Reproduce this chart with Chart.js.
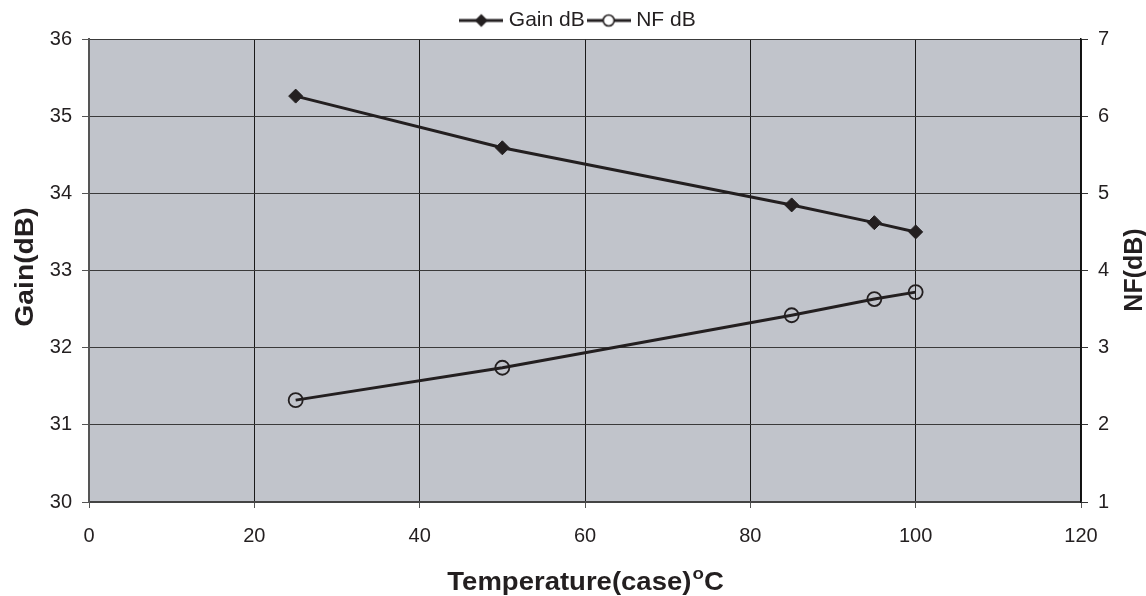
<!DOCTYPE html>
<html>
<head>
<meta charset="utf-8">
<script src="https://cdn.jsdelivr.net/npm/chart.js@4"></script>
<style>
  html, body { margin: 0; padding: 0; background: #fff; }
</style>
</head>
<body>
<canvas id="chart" width="1146" height="596"></canvas>
<script>
// ==============================
// Data
// ==============================
const temps = [25, 50, 85, 95, 100];
const gainDb = [35.26, 34.59, 33.85, 33.62, 33.5];
const nfDb = [2.32, 2.74, 3.42, 3.63, 3.72];
const seriesNames = ['Gain dB', 'NF dB'];

const ink = '#231f20';
const plotBg = '#c1c4cb';
const fontFamily = '"Liberation Sans", Arial, sans-serif';

// ==============================
// Legend markers (line + symbol)
// ==============================
function legendMark(kind) {
    const c = document.createElement('canvas');
    c.width = 44; c.height = 16;
    const g = c.getContext('2d');
    g.strokeStyle = ink;
    g.lineWidth = 3;
    g.beginPath(); g.moveTo(0, 8); g.lineTo(44, 8); g.stroke();
    if (kind === 'diamond') {
        g.fillStyle = ink;
        g.beginPath();
        g.moveTo(22, 1.5); g.lineTo(28.5, 8); g.lineTo(22, 14.5); g.lineTo(15.5, 8);
        g.closePath(); g.fill();
    } else {
        g.fillStyle = '#fff';
        g.lineWidth = 1.6;
        g.beginPath(); g.arc(22, 8, 5.5, 0, Math.PI * 2); g.fill(); g.stroke();
    }
    return c;
}
const legendIcons = [legendMark('diamond'), legendMark('circle')];

// ==============================
// Plugins
// ==============================
const plotBackground = {
    id: 'plotBackground',
    beforeDraw(chart) {
        const { ctx, chartArea: a } = chart;
        ctx.save();
        ctx.fillStyle = plotBg;
        ctx.fillRect(a.left, a.top, a.right - a.left, a.bottom - a.top);
        ctx.restore();
    }
};

// legend box a little shorter so the plot starts at the right height
const legendTrim = {
    id: 'legendTrim',
    beforeLayout(chart) {
        const lg = chart.legend;
        if (!lg || lg._trimmed) return;
        const orig = lg.fit;
        lg.fit = function () { orig.call(this); this.height -= 2; };
        lg._trimmed = true;
    }
};

const axisTitles = {
    id: 'axisTitles',
    afterDraw(chart) {
        const { ctx, chartArea: a } = chart;
        const big = 'bold 25px ' + fontFamily;
        const small = 'bold 17px ' + fontFamily;
        ctx.save();
        ctx.fillStyle = ink;
        ctx.textBaseline = 'alphabetic';
        ctx.textAlign = 'left';

        // x title with superscript o
        const main = 'Temperature(case)';
        const sup = 'o';
        const tail = 'C';
        ctx.font = big;
        const wMain = ctx.measureText(main).width;
        const wTail = ctx.measureText(tail).width;
        ctx.font = small;
        const wSup = ctx.measureText(sup).width;
        const total = wMain + wSup + wTail;
        ctx.translate((a.left + a.right) / 2, 590);
        ctx.scale(1.1, 1);
        let x = -total / 2;
        ctx.font = big;
        ctx.fillText(main, x, 0);
        ctx.font = small;
        ctx.fillText(sup, x + wMain + 1, -11);
        ctx.font = big;
        ctx.fillText(tail, x + wMain + wSup + 1, 0);

        // y titles, both reading bottom to top
        ctx.textAlign = 'center';
        ctx.textBaseline = 'middle';
        ctx.font = big;
        ctx.setTransform(1, 0, 0, 1, 0, 0);
        ctx.translate(26, 267);
        ctx.rotate(-Math.PI / 2);
        ctx.scale(1.13, 1);
        ctx.fillText('Gain(dB)', 0, 0);
        ctx.setTransform(1, 0, 0, 1, 0, 0);
        ctx.translate(1135, 270);
        ctx.rotate(-Math.PI / 2);
        ctx.fillText('NF(dB)', 0, 0);
        ctx.restore();
    }
};

// ==============================
// Chart
// ==============================
const tickFont = { family: fontFamily, size: 20 };

new Chart(document.getElementById('chart'), {
    type: 'line',
    data: {
        datasets: [
            {
                label: seriesNames[0],
                data: temps.map((t, i) => ({ x: t, y: gainDb[i] })),
                yAxisID: 'y',
                borderColor: ink,
                borderWidth: 3,
                backgroundColor: ink,
                pointStyle: 'rectRot',
                pointRadius: 7,
                pointBorderWidth: 1,
                pointBorderColor: ink,
                pointBackgroundColor: ink,
                tension: 0
            },
            {
                label: seriesNames[1],
                data: temps.map((t, i) => ({ x: t, y: nfDb[i] })),
                yAxisID: 'y1',
                borderColor: ink,
                borderWidth: 3,
                backgroundColor: 'rgba(0,0,0,0)',
                pointStyle: 'circle',
                pointRadius: 7,
                pointBorderWidth: 1.8,
                pointBorderColor: ink,
                pointBackgroundColor: 'rgba(0,0,0,0)',
                tension: 0
            }
        ]
    },
    options: {
        responsive: false,
        animation: false,
        layout: { padding: { top: 3, left: 14, right: 0, bottom: 0 } },
        plugins: {
            tooltip: { enabled: false },
            legend: {
                display: true,
                position: 'top',
                labels: {
                    color: ink,
                    font: { family: fontFamily, size: 21 },
                    usePointStyle: true,
                    pointStyleWidth: 34,
                    padding: 7,
                    generateLabels(chart) {
                        return chart.data.datasets.map((ds, i) => ({
                            text: ds.label,
                            pointStyle: legendIcons[i],
                            fillStyle: ink,
                            strokeStyle: ink,
                            lineWidth: 0,
                            fontColor: ink,
                            datasetIndex: i
                        }));
                    }
                }
            }
        },
        scales: {
            x: {
                type: 'linear',
                min: 0, max: 120,
                ticks: { stepSize: 20, color: ink, font: tickFont, padding: 16 },
                grid: { color: '#1a1a1a', lineWidth: 1, tickLength: 6, tickColor: '#555' },
                border: { color: '#444', width: 2 },
                afterFit(s) { s.height = 94; }
            },
            y: {
                position: 'left',
                min: 30, max: 36,
                ticks: { stepSize: 1, color: ink, font: tickFont, padding: 10 },
                grid: { color: '#3a3a3a', lineWidth: 1, tickLength: 7, tickColor: '#555' },
                border: { color: '#555', width: 2 },
                afterFit(s) { s.width = 75; }
            },
            y1: {
                position: 'right',
                min: 1, max: 7,
                ticks: { stepSize: 1, color: ink, font: tickFont, padding: 10 },
                grid: { drawOnChartArea: false, tickLength: 7, tickColor: '#333' },
                border: { color: '#111', width: 1.5 },
                afterFit(s) { s.width = 65; }
            }
        }
    },
    plugins: [plotBackground, legendTrim, axisTitles]
});
</script>
</body>
</html>
